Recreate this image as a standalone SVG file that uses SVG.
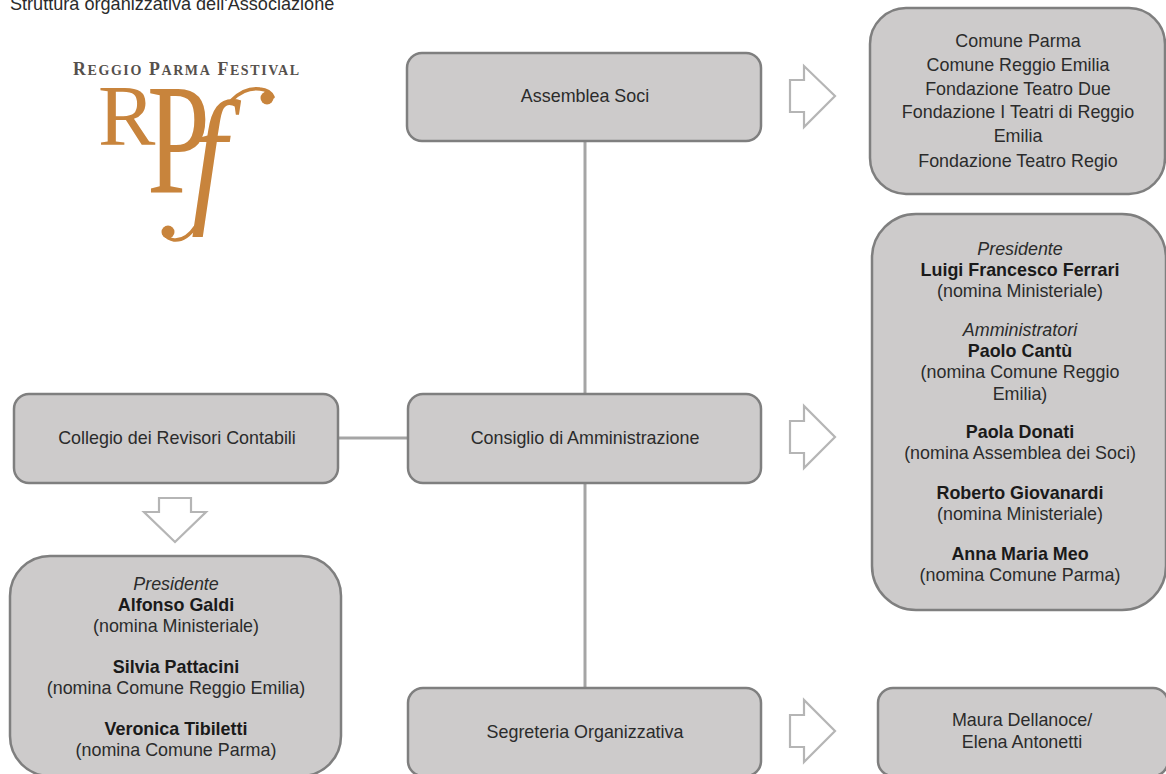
<svg xmlns="http://www.w3.org/2000/svg" width="1166" height="774" viewBox="0 0 1166 774">
<style>
text{font-family:"Liberation Sans",Arial,sans-serif;font-size:17.9px;fill:#2b2b2b;text-anchor:middle}
.b{font-weight:bold;fill:#1a1a1a}
.i{font-style:italic}
.box{fill:#cdcbcb;stroke:#7f7f7f;stroke-width:2.5}
.conn{fill:none;stroke:#a5a5a5;stroke-width:3}
.arrow{fill:#fff;stroke:#b5b5b5;stroke-width:2.2}
.logo{font-family:"Liberation Serif","Times New Roman",serif;fill:#c8843c}
.sw{fill:none;stroke:#c8843c;stroke-linecap:round;stroke-width:3.5}
.ball{fill:#c8843c}
</style>
<rect width="1166" height="774" fill="#fff"/>
<text x="10" y="9.5" style="text-anchor:start;font-size:18.1px">Struttura organizzativa dell'Associazione</text>
<g id="logo">
<text x="73" y="74.5" class="logo" style="text-anchor:start;font-size:17.8px;fill:#55504c;letter-spacing:1.6px;font-weight:bold">R<tspan font-size="14">EGGIO</tspan> P<tspan font-size="14">ARMA</tspan> F<tspan font-size="14">ESTIVAL</tspan></text>
<text class="logo" style="text-anchor:start;font-size:86px" transform="translate(98 145)">R</text>
<text class="logo" style="text-anchor:start;font-size:157px" transform="translate(147 192) scale(.72 1)">P</text>
<text class="logo" style="text-anchor:start;font-size:150px;font-style:italic" transform="translate(191 205) scale(.85 1)">f</text>
<path class="sw" d="M232 100Q245 87 260 89Q270 90 273 97M196 226Q186 241 174 240Q168 239 164 234"/>
<circle class="ball" cx="267" cy="98" r="6.5"/>
<circle class="ball" cx="168" cy="232" r="6.5"/>
</g>
<g id="connectors">
<path class="conn" d="M585 141V394M585 483V688M338 438H408"/>
</g>
<g id="assemblea"><rect class="box" x="407" y="53" width="354" height="88" rx="15"/><text x="585" y="102">Assemblea Soci</text></g>
<g id="consiglio"><rect class="box" x="408" y="394" width="353" height="89" rx="15"/><text x="585" y="444">Consiglio di Amministrazione</text></g>
<g id="segreteria"><rect class="box" x="408" y="688" width="353" height="88" rx="15"/><text x="585" y="738">Segreteria Organizzativa</text></g>
<g id="collegio"><rect class="box" x="14" y="394" width="324" height="89" rx="15"/><text x="177" y="444">Collegio dei Revisori Contabili</text></g>
<g id="soci-list"><rect class="box" x="870" y="8" width="295" height="186" rx="36"/>
<text x="1018" y="47">Comune Parma</text><text x="1018" y="71">Comune Reggio Emilia</text><text x="1018" y="95">Fondazione Teatro Due</text><text x="1018" y="118">Fondazione I Teatri di Reggio</text><text x="1018" y="142">Emilia</text><text x="1018" y="167">Fondazione Teatro Regio</text></g>
<g id="consiglio-list"><rect class="box" x="872" y="214" width="294" height="396" rx="44"/>
<text x="1020" y="255" class="i">Presidente</text><text x="1020" y="276" class="b">Luigi Francesco Ferrari</text><text x="1020" y="297">(nomina Ministeriale)</text>
<text x="1020" y="336" class="i">Amministratori</text><text x="1020" y="357" class="b">Paolo Cantù</text><text x="1020" y="378">(nomina Comune Reggio</text><text x="1020" y="400">Emilia)</text>
<text x="1020" y="438" class="b">Paola Donati</text><text x="1020" y="459">(nomina Assemblea dei Soci)</text>
<text x="1020" y="499" class="b">Roberto Giovanardi</text><text x="1020" y="520">(nomina Ministeriale)</text>
<text x="1020" y="560" class="b">Anna Maria Meo</text><text x="1020" y="581">(nomina Comune Parma)</text></g>
<g id="revisori-list"><rect class="box" x="10" y="556" width="331" height="220" rx="40"/>
<text x="176" y="590" class="i">Presidente</text><text x="176" y="611" class="b">Alfonso Galdi</text><text x="176" y="632">(nomina Ministeriale)</text>
<text x="176" y="673" class="b">Silvia Pattacini</text><text x="176" y="694">(nomina Comune Reggio Emilia)</text>
<text x="176" y="735" class="b">Veronica Tibiletti</text><text x="176" y="756">(nomina Comune Parma)</text></g>
<g id="segreteria-list"><rect class="box" x="878" y="688" width="290" height="88" rx="15"/><text x="1022" y="726">Maura Dellanoce/</text><text x="1022" y="748">Elena Antonetti</text></g>
<g id="arrows">
<path class="arrow" d="M790 80H804V66L835 96L804 127V112H790Z"/>
<path class="arrow" d="M790 421H804V406L835 437L804 468V453H790Z"/>
<path class="arrow" d="M790 715H804V700L835 731L804 762V747H790Z"/>
<path class="arrow" d="M159 498V512H144L175 542L206 512H191V498Z"/>
</g>
</svg>
